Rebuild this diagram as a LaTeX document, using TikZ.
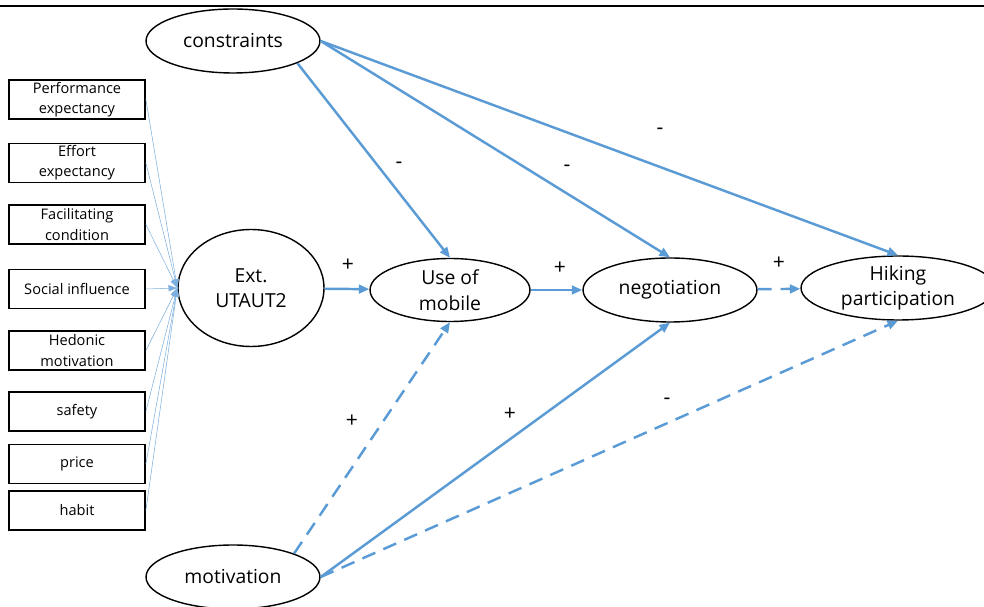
\documentclass[tikz,border=0pt]{standalone}
\usepackage{fontspec}
\setmainfont{Open Sans}
\usetikzlibrary{shapes.geometric,arrows.meta}

\definecolor{pathblue}{RGB}{91,155,213}

\tikzset{
  latent/.style={draw, ellipse, line width=0.8pt, inner sep=0pt, align=center,
    font=\fontsize{11}{14.5}\selectfont},
  factor/.style={draw, rectangle, line width=1pt, inner sep=0pt, align=center,
    minimum width=2.72cm, minimum height=0.78cm, font=\fontsize{8.3}{11.5}\selectfont},
  path/.style={pathblue, line width=1.4pt, -{Triangle[length=6pt,width=5pt]}},
  weak/.style={path, dash pattern=on 8pt off 5pt},
  feed/.style={pathblue!80, line width=0.3pt, -{Triangle[length=5pt,width=3.5pt]}},
  sign/.style={font=\fontsize{12}{14}\selectfont}
}

\begin{document}
\begin{tikzpicture}[x=0.02cm, y=-0.02cm]
    % Picture frame and the top rule
    \useasboundingbox (0,0) rectangle (984,607);
    \draw[line width=1.4pt] (0,6) -- (984,6);

    % Latent constructs
    \node[latent, minimum width=3.48cm, minimum height=1.28cm] (cons) at (233,41) {constraints};
    \node[latent, minimum width=2.92cm, minimum height=2.34cm] (utaut) at (251,288) {Ext.\\UTAUT2};
    \node[latent, minimum width=3.2cm, minimum height=1.26cm] (use) at (450,290) {Use of\\mobile};
    \node[latent, minimum width=3.48cm, minimum height=1.28cm] (neg) at (670,290) {negotiation};
    \node[latent, minimum width=3.88cm, minimum height=1.28cm] (hike) at (898,288) {Hiking\\participation};
    \node[latent, minimum width=3.48cm, minimum height=1.28cm] (mot) at (233,577) {motivation};

    % UTAUT2 factors
    \foreach \y/\nm/\txt in {99.5/pe/{Performance\\expectancy}, 163/ee/{Effort\\expectancy},
        224.5/fc/{Facilitating\\condition}, 289/si/{Social influence},
        350.5/hm/{Hedonic\\motivation}, 411.5/sa/{safety}, 464/pr/{price}, 510.5/ha/{habit}} {
      \node[factor] (\nm) at (77,\y) {\txt};
      \draw[feed] (\nm.east) -- (utaut.west);
    }

    % Main paths
    \draw[path] (utaut) -- (use);
    \draw[path] (use) -- (neg);
    \draw[weak] (neg) -- (hike);

    \draw[path] (cons.-19) -- (use.north);
    \draw[path] (cons.east) -- (neg.north);
    \draw[path] (cons.east) -- (hike.north);

    \draw[weak] (mot.21) -- (use.south);
    \draw[path] (mot.east) -- (neg.south);
    \draw[weak] (mot.east) -- (hike.south);

    % Signs
    \node[sign] (sUU) at (348,265) {+};
    \node[sign] (sUN) at (560,268) {+};
    \node[sign] (sNH) at (779,263) {+};
    \node[sign] (sCU) at (399,165) {-};
    \node[sign] (sCN) at (567,168) {-};
    \node[sign] (sCH) at (660,131) {-};
    \node[sign] (sMU) at (352,421) {+};
    \node[sign] (sMN) at (510,414) {+};
    \node[sign] (sMH) at (667,401) {-};
\end{tikzpicture}
\end{document}
